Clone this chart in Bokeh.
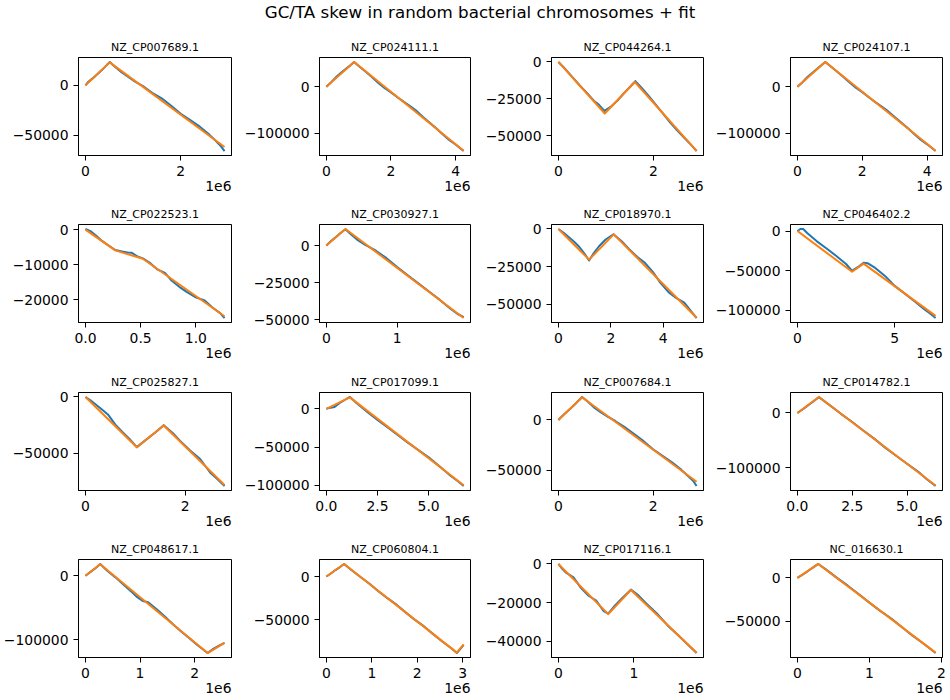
from bokeh.plotting import figure
from bokeh.layouts import gridplot, column
from bokeh.models import Range1d, FixedTicker, Div, CustomJSTickFormatter, Title
from bokeh.embed import file_html
from bokeh.resources import INLINE

SUPTITLE = "GC/TA skew in random bacterial chromosomes + fit"
OFFSET_TEXT = "1e6"

# positions are in units of 1e6 bp (the axis offset "1e6")
p01_name = "NZ_CP007689.1"
p01_pos = [0, 0.05, 0.1, 0.2, 0.3, 0.4, 0.51, 0.6, 0.75, 0.9, 1.05, 1.2, 1.4, 1.6, 1.8, 2.0, 2.2, 2.4, 2.6, 2.75, 2.85, 2.92]
p01_skew = [0, 3000, 5000, 9000, 13500, 18000, 23500, 19500, 13500, 8500, 3500, -500, -7500, -13000, -20500, -28500, -35000, -41500, -49500, -56500, -61500, -66000]
p01_fit_pos = [0, 0.51, 2.92]
p01_fit = [0, 23100, -61900]
p01_xticks = [0, 2]
p01_yticks = [0, -50000]

p02_name = "NZ_CP024111.1"
p02_pos = [0, 0.15, 0.3, 0.5, 0.7, 0.86, 1.0, 1.2, 1.4, 1.6, 1.8, 2.0, 2.2, 2.4, 2.6, 2.8, 3.0, 3.2, 3.4, 3.6, 3.8, 4.0, 4.25]
p02_skew = [0, 10000, 21000, 33000, 44000, 53500, 45000, 33500, 21500, 9000, -2500, -12000, -22500, -32500, -42000, -52500, -65500, -77500, -89500, -102500, -114500, -124500, -138500]
p02_fit_pos = [0, 0.86, 4.25]
p02_fit = [0, 53600, -137700]
p02_xticks = [0, 2, 4]
p02_yticks = [0, -100000]

p03_name = "NZ_CP044264.1"
p03_pos = [0, 0.15, 0.3, 0.45, 0.6, 0.75, 0.85, 0.97, 1.1, 1.25, 1.4, 1.52, 1.62, 1.75, 1.9, 2.05, 2.2, 2.35, 2.5, 2.65, 2.8, 2.91]
p03_skew = [0, -5000, -10500, -16000, -21000, -26500, -29000, -33200, -30500, -26000, -20500, -16500, -13000, -17500, -23000, -29000, -35000, -41000, -46500, -51500, -56500, -60500]
p03_fit_pos = [0, 0.976, 1.61, 2.91]
p03_fit = [0, -35000, -13600, -60400]
p03_xticks = [0, 2]
p03_yticks = [0, -25000, -50000]

p04_name = "NZ_CP024107.1"
p04_pos = [0, 0.15, 0.3, 0.5, 0.7, 0.86, 1.0, 1.2, 1.4, 1.6, 1.8, 2.0, 2.2, 2.4, 2.6, 2.8, 3.0, 3.2, 3.4, 3.6, 3.8, 4.0, 4.26]
p04_skew = [0, 9500, 20500, 32500, 44500, 53500, 45500, 34000, 22000, 10000, -2000, -11500, -22500, -33000, -42500, -53000, -65000, -77000, -89000, -101500, -114000, -124000, -138500]
p04_fit_pos = [0, 0.86, 4.26]
p04_fit = [0, 53600, -137700]
p04_xticks = [0, 2, 4]
p04_yticks = [0, -100000]

p05_name = "NZ_CP022523.1"
p05_pos = [0, 0.05, 0.1, 0.15, 0.2, 0.27, 0.33, 0.38, 0.42, 0.47, 0.52, 0.58, 0.65, 0.72, 0.78, 0.85, 0.92, 1.0, 1.08, 1.15, 1.22, 1.26]
p05_skew = [200, -500, -1800, -3200, -4300, -5800, -6200, -6500, -6600, -7600, -8200, -9400, -11300, -12300, -14500, -16300, -17800, -19300, -20200, -22200, -23800, -25200]
p05_fit_pos = [0, 0.27, 0.52, 1.26]
p05_fit = [0, -5900, -8300, -24700]
p05_xticks = [0, 0.5, 1.0]
p05_yticks = [0, -10000, -20000]

p06_name = "NZ_CP030927.1"
p06_pos = [0, 0.07, 0.14, 0.2, 0.27, 0.35, 0.45, 0.55, 0.7, 0.85, 1.0, 1.15, 1.3, 1.45, 1.6, 1.75, 1.85, 1.94]
p06_skew = [0, 3200, 6000, 8500, 11000, 7500, 3500, 500, -3500, -8500, -14500, -20000, -25500, -31000, -36500, -42500, -46000, -48300]
p06_fit_pos = [0, 0.27, 1.94]
p06_fit = [0, 11200, -48900]
p06_xticks = [0, 1]
p06_yticks = [0, -25000, -50000]

p07_name = "NZ_CP018970.1"
p07_pos = [0, 0.2, 0.4, 0.6, 0.8, 1.0, 1.17, 1.35, 1.55, 1.8, 2.1, 2.4, 2.7, 3.0, 3.3, 3.6, 3.9, 4.2, 4.5, 4.8, 5.05, 5.27]
p07_skew = [0, -2500, -5500, -8500, -12000, -16500, -21000, -16000, -11500, -7000, -3500, -8000, -13500, -18500, -22500, -28500, -36000, -42000, -46000, -49000, -54500, -59200]
p07_fit_pos = [0, 1.17, 2.11, 5.27]
p07_fit = [0, -20400, -3600, -59000]
p07_xticks = [0, 2, 4]
p07_yticks = [0, -25000, -50000]

p08_name = "NZ_CP046402.2"
p08_pos = [0, 0.15, 0.3, 0.5, 1.0, 1.5, 2.0, 2.5, 2.8, 3.1, 3.4, 3.6, 4.0, 4.5, 5.0, 5.5, 6.0, 6.5, 6.8, 7.1]
p08_skew = [0, 2500, 2600, -2500, -13000, -22000, -31500, -41500, -50000, -45500, -40000, -40500, -46500, -56500, -69000, -78500, -88000, -98000, -103500, -109500]
p08_fit_pos = [0, 2.81, 3.40, 7.1]
p08_fit = [0, -51300, -41000, -106800]
p08_xticks = [0, 5]
p08_yticks = [0, -50000, -100000]

p09_name = "NZ_CP025827.1"
p09_pos = [0, 0.1, 0.2, 0.3, 0.45, 0.6, 0.75, 0.9, 1.03, 1.2, 1.4, 1.57, 1.75, 1.9, 2.1, 2.3, 2.5, 2.65, 2.79]
p09_skew = [0, -3000, -6500, -10000, -15500, -24500, -31500, -38000, -44500, -38500, -31500, -25000, -32000, -39000, -47500, -55000, -67000, -73000, -79000]
p09_fit_pos = [0, 1.03, 1.57, 2.79]
p09_fit = [0, -44600, -25300, -78000]
p09_xticks = [0, 2]
p09_yticks = [0, -50000]

p10_name = "NZ_CP017099.1"
p10_pos = [0, 0.2, 0.4, 0.7, 0.95, 1.15, 1.5, 2.0, 2.5, 3.0, 3.5, 4.0, 4.5, 5.0, 5.5, 6.0, 6.4, 6.71]
p10_skew = [0, 1500, 2500, 8500, 12500, 15500, 7000, -4000, -14500, -24500, -34500, -44500, -54000, -63500, -74500, -86000, -94000, -101000]
p10_fit_pos = [0, 1.15, 6.71]
p10_fit = [0, 15000, -100000]
p10_xticks = [0, 2.5, 5.0]
p10_yticks = [0, -50000, -100000]

p11_name = "NZ_CP007684.1"
p11_pos = [0, 0.05, 0.15, 0.25, 0.35, 0.5, 0.6, 0.75, 0.9, 1.05, 1.2, 1.4, 1.6, 1.8, 2.0, 2.2, 2.4, 2.6, 2.75, 2.85, 2.92]
p11_skew = [0, 2500, 7000, 11000, 15500, 22800, 19000, 12500, 7500, 3000, -1000, -7000, -14000, -21000, -29000, -35500, -42000, -49500, -56000, -60500, -65500]
p11_fit_pos = [0, 0.50, 2.92]
p11_fit = [0, 22500, -61300]
p11_xticks = [0, 2]
p11_yticks = [0, -50000]

p12_name = "NZ_CP014782.1"
p12_pos = [0, 0.3, 0.6, 0.98, 1.5, 2.0, 2.5, 3.0, 3.5, 4.0, 4.5, 5.0, 5.5, 5.9, 6.3]
p12_skew = [0, 8500, 17500, 29000, 13500, -2000, -16500, -32000, -47000, -63500, -78500, -93000, -107500, -121500, -134000]
p12_fit_pos = [0, 0.98, 6.3]
p12_fit = [0, 29400, -133100]
p12_xticks = [0, 2.5, 5.0]
p12_yticks = [0, -100000]

p13_name = "NZ_CP048617.1"
p13_pos = [0, 0.1, 0.2, 0.27, 0.4, 0.55, 0.7, 0.85, 0.95, 1.05, 1.15, 1.3, 1.45, 1.6, 1.75, 1.9, 2.05, 2.24, 2.35, 2.45, 2.55]
p13_skew = [0, 6500, 13000, 18500, 8000, -2500, -14000, -25500, -33500, -39500, -41500, -52000, -63500, -75500, -87000, -97500, -108500, -121000, -114000, -109500, -105000]
p13_fit_pos = [0, 0.27, 2.24, 2.55]
p13_fit = [0, 18000, -121000, -105000]
p13_xticks = [0, 1, 2]
p13_yticks = [0, -100000]

p14_name = "NZ_CP060804.1"
p14_pos = [0, 0.1, 0.2, 0.3, 0.39, 0.55, 0.75, 0.95, 1.15, 1.35, 1.55, 1.75, 1.95, 2.15, 2.35, 2.55, 2.75, 2.87, 2.95, 3.02]
p14_skew = [0, 3500, 7500, 11000, 14600, 7500, -500, -8500, -17500, -25500, -33000, -42000, -50500, -58000, -67000, -75500, -83500, -89000, -84000, -79500]
p14_fit_pos = [0, 0.39, 2.87, 3.02]
p14_fit = [0, 14600, -88500, -79000]
p14_xticks = [0, 1, 2, 3]
p14_yticks = [0, -50000]

p15_name = "NZ_CP017116.1"
p15_pos = [0, 0.05, 0.1, 0.2, 0.3, 0.4, 0.5, 0.6, 0.66, 0.75, 0.85, 0.96, 1.05, 1.15, 1.3, 1.45, 1.6, 1.72, 1.83]
p15_skew = [0, -2500, -4500, -7000, -12500, -16500, -19000, -24500, -25800, -21500, -17500, -13300, -16000, -20000, -25500, -32000, -37500, -42000, -46200]
p15_fit_pos = [0, 0.66, 0.96, 1.83]
p15_fit = [0, -26000, -13500, -46000]
p15_xticks = [0, 1]
p15_yticks = [0, -20000, -40000]

p16_name = "NC_016630.1"
p16_pos = [0, 0.1, 0.2, 0.29, 0.4, 0.55, 0.7, 0.85, 1.0, 1.15, 1.3, 1.45, 1.6, 1.75, 1.92]
p16_skew = [0, 5000, 11000, 16000, 9500, 0, -9000, -18500, -28500, -38000, -46500, -56500, -66500, -75500, -86500]
p16_fit_pos = [0, 0.29, 1.92]
p16_fit = [0, 16000, -86000]
p16_xticks = [0, 1, 2]
p16_yticks = [0, -50000]

panels = [
    (p01_name, p01_pos, p01_skew, p01_fit_pos, p01_fit, p01_xticks, p01_yticks),
    (p02_name, p02_pos, p02_skew, p02_fit_pos, p02_fit, p02_xticks, p02_yticks),
    (p03_name, p03_pos, p03_skew, p03_fit_pos, p03_fit, p03_xticks, p03_yticks),
    (p04_name, p04_pos, p04_skew, p04_fit_pos, p04_fit, p04_xticks, p04_yticks),
    (p05_name, p05_pos, p05_skew, p05_fit_pos, p05_fit, p05_xticks, p05_yticks),
    (p06_name, p06_pos, p06_skew, p06_fit_pos, p06_fit, p06_xticks, p06_yticks),
    (p07_name, p07_pos, p07_skew, p07_fit_pos, p07_fit, p07_xticks, p07_yticks),
    (p08_name, p08_pos, p08_skew, p08_fit_pos, p08_fit, p08_xticks, p08_yticks),
    (p09_name, p09_pos, p09_skew, p09_fit_pos, p09_fit, p09_xticks, p09_yticks),
    (p10_name, p10_pos, p10_skew, p10_fit_pos, p10_fit, p10_xticks, p10_yticks),
    (p11_name, p11_pos, p11_skew, p11_fit_pos, p11_fit, p11_xticks, p11_yticks),
    (p12_name, p12_pos, p12_skew, p12_fit_pos, p12_fit, p12_xticks, p12_yticks),
    (p13_name, p13_pos, p13_skew, p13_fit_pos, p13_fit, p13_xticks, p13_yticks),
    (p14_name, p14_pos, p14_skew, p14_fit_pos, p14_fit, p14_xticks, p14_yticks),
    (p15_name, p15_pos, p15_skew, p15_fit_pos, p15_fit, p15_xticks, p15_yticks),
    (p16_name, p16_pos, p16_skew, p16_fit_pos, p16_fit, p16_xticks, p16_yticks),
]

FONT = "DejaVu Sans"
BLUE = "#1f77b4"
ORANGE = "#ff7f0e"
FRAME_H = 98
COL_L = [78, 77, 67, 77]
COL_F = [153, 152, 154, 153]
COL_R = [10, 12, 9, 8]
ROW_T = [29, 24, 24, 24]
ROW_B = [45, 46, 45, 45]
HEAD_H = 18


def fmt(decimals):
    return CustomJSTickFormatter(code="""
        const s = Math.abs(tick).toFixed(%d);
        return (tick < 0 ? '\u2212' : '') + s;
    """ % decimals)


def padded(vals):
    lo, hi = min(vals), max(vals)
    d = (hi - lo) * 0.05
    return Range1d(lo - d, hi + d)


grid = []
for i, (name, pos, skew, fpos, fit, xt, yt) in enumerate(panels):
    r, c = divmod(i, 4)
    L, F, R = COL_L[c], COL_F[c], COL_R[c]
    T, B = ROW_T[r], ROW_B[r]
    p = figure(width=L + F + R, height=T + FRAME_H + B,
               min_border_left=L, min_border_right=R, min_border_top=T, min_border_bottom=B,
               x_range=padded(pos + fpos), y_range=padded(skew + fit),
               output_backend="svg", toolbar_location=None)
    p.line(pos, skew, line_color=BLUE, line_width=2, line_join="round")
    p.line(fpos, fit, line_color=ORANGE, line_width=2, line_join="round")
    p.xgrid.visible = False
    p.ygrid.visible = False
    p.outline_line_color = "black"
    p.outline_line_width = 1
    p.outline_line_alpha = 1
    p.background_fill_color = "white"
    p.border_fill_color = "white"
    xdec = 0 if all(float(v).is_integer() for v in xt) else 1
    p.xaxis.ticker = FixedTicker(ticks=xt)
    p.yaxis.ticker = FixedTicker(ticks=yt)
    p.xaxis.formatter = fmt(xdec)
    p.yaxis.formatter = fmt(0)
    for ax in (p.xaxis[0], p.yaxis[0]):
        ax.major_tick_out = 5
        ax.major_tick_in = 0
        ax.minor_tick_out = 0
        ax.minor_tick_in = 0
        ax.major_tick_line_color = "black"
        ax.major_tick_line_width = 1
        ax.axis_line_color = "black"
        ax.axis_line_width = 1
        ax.major_label_standoff = 5
        ax.major_label_text_font = FONT
        ax.major_label_text_font_size = "13.9px"
        ax.major_label_text_color = "black"
    p.title.text = name
    p.title.align = "center"
    p.title.text_font = FONT
    p.title.text_font_size = "11px"
    p.title.text_font_style = "normal"
    p.title.text_color = "black"
    p.title.standoff = 8
    p.add_layout(Title(text=OFFSET_TEXT, align="right", text_font=FONT,
                       text_font_size="13.9px", text_font_style="normal",
                       text_color="black", standoff=0), "below")
    if c == 0:
        grid.append([])
    grid[-1].append(p)

total_w = sum(COL_L) + sum(COL_F) + sum(COL_R)
title = Div(text=SUPTITLE, width=total_w, height=HEAD_H,
            styles={"font-family": FONT, "font-size": "16.7px", "text-align": "center",
                    "color": "black", "line-height": "14px"})
gp = gridplot(grid, toolbar_location=None)
layout = column(title, gp)

open("out.html", "w").write(file_html(layout, INLINE))
